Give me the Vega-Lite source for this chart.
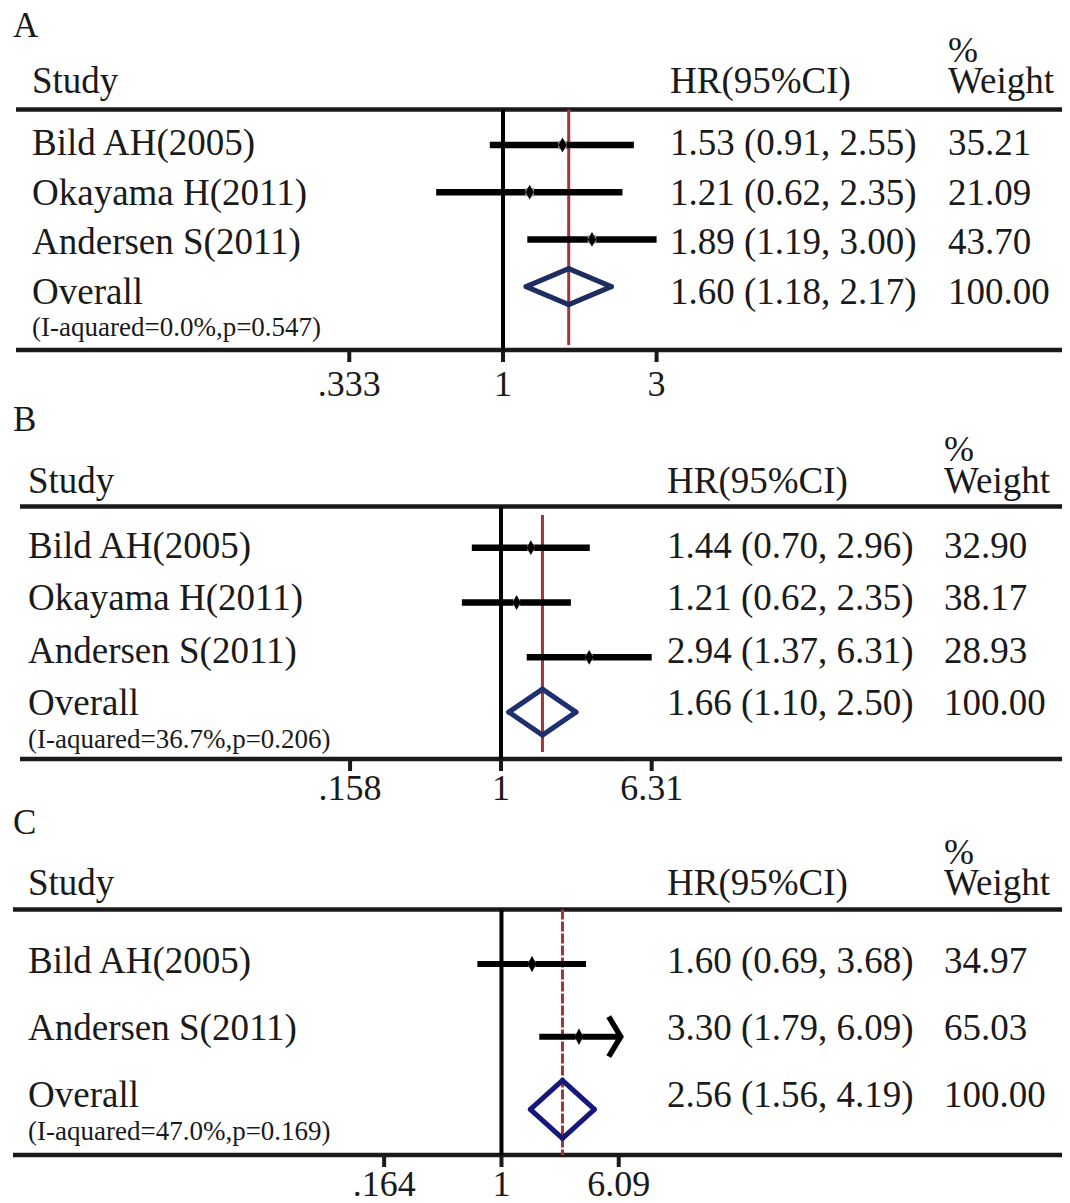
{
"$schema": "https://vega.github.io/schema/vega-lite/v6.json",
"padding": 0,
"spacing": 0,
"bounds": "flush",
"config": {"view": {"stroke": null}, "concat": {"spacing": 0}},
"datasets": {
"A": [
{"row": 1, "type": "study", "study": "Bild AH(2005)", "est": 1.53, "lo": 0.91, "hi": 2.55, "label": "1.53 (0.91, 2.55)", "wt": 35.21},
{"row": 2, "type": "study", "study": "Okayama H(2011)", "est": 1.21, "lo": 0.62, "hi": 2.35, "label": "1.21 (0.62, 2.35)", "wt": 21.09},
{"row": 3, "type": "study", "study": "Andersen S(2011)", "est": 1.89, "lo": 1.19, "hi": 3.0, "label": "1.89 (1.19, 3.00)", "wt": 43.7},
{"row": 4, "type": "overall", "study": "Overall", "est": 1.6, "lo": 1.18, "hi": 2.17, "label": "1.60 (1.18, 2.17)", "wt": 100, "het": "(I-aquared=0.0%,p=0.547)"}
],
"B": [
{"row": 1, "type": "study", "study": "Bild AH(2005)", "est": 1.44, "lo": 0.7, "hi": 2.96, "label": "1.44 (0.70, 2.96)", "wt": 32.9},
{"row": 2, "type": "study", "study": "Okayama H(2011)", "est": 1.21, "lo": 0.62, "hi": 2.35, "label": "1.21 (0.62, 2.35)", "wt": 38.17},
{"row": 3, "type": "study", "study": "Andersen S(2011)", "est": 2.94, "lo": 1.37, "hi": 6.31, "label": "2.94 (1.37, 6.31)", "wt": 28.93},
{"row": 4, "type": "overall", "study": "Overall", "est": 1.66, "lo": 1.1, "hi": 2.5, "label": "1.66 (1.10, 2.50)", "wt": 100, "het": "(I-aquared=36.7%,p=0.206)"}
],
"C": [
{"row": 1, "type": "study", "study": "Bild AH(2005)", "est": 1.6, "lo": 0.69, "hi": 3.68, "label": "1.60 (0.69, 3.68)", "wt": 34.97},
{"row": 2, "type": "study", "study": "Andersen S(2011)", "est": 3.3, "lo": 1.79, "hi": 6.09, "label": "3.30 (1.79, 6.09)", "wt": 65.03},
{"row": 3, "type": "overall", "study": "Overall", "est": 2.56, "lo": 1.56, "hi": 4.19, "label": "2.56 (1.56, 4.19)", "wt": 100, "het": "(I-aquared=47.0%,p=0.169)"}
],
"ticksA": [{"v": 0.333, "lab": ".333"}, {"v": 1, "lab": "1"}, {"v": 3, "lab": "3"}],
"ticksB": [{"v": 0.158, "lab": ".158"}, {"v": 1, "lab": "1"}, {"v": 6.31, "lab": "6.31"}],
"ticksC": [{"v": 0.164, "lab": ".164"}, {"v": 1, "lab": "1"}, {"v": 6.09, "lab": "6.09"}]
},
"vconcat": [
{
"width": 1070, "height": 401,
"data": {"name": "A"},
"resolve": {"scale": {"x": "independent", "y": "independent"}},
"layer": [
{"layer": [
{"data": {"values": [{}]}, "mark": {"type": "text", "text": "A", "font": "Liberation Serif", "fontSize": 35, "align": "left", "baseline": "alphabetic", "color": "#1a1a1a"},
 "encoding": {"x": {"datum": 13, "type": "quantitative", "scale": {"domain": [0, 1070], "nice": false, "zero": false}, "axis": null}, "y": {"datum": -1.3742, "type": "quantitative", "scale": {"domain": [-2.1187, 5.9497], "nice": false, "zero": false, "reverse": true}, "axis": null}}},
{"data": {"values": [{}]}, "mark": {"type": "text", "text": "%", "font": "Liberation Serif", "fontSize": 36, "align": "left", "baseline": "alphabetic", "color": "#1a1a1a"},
 "encoding": {"x": {"datum": 948, "type": "quantitative", "scale": {"domain": [0, 1070], "nice": false, "zero": false}, "axis": null}, "y": {"datum": -0.8712, "type": "quantitative", "scale": {"domain": [-2.1187, 5.9497], "nice": false, "zero": false, "reverse": true}, "axis": null}}},
{"data": {"values": [{}]}, "mark": {"type": "text", "text": "Study", "font": "Liberation Serif", "fontSize": 37, "align": "left", "baseline": "alphabetic", "color": "#1a1a1a"},
 "encoding": {"x": {"datum": 32, "type": "quantitative", "scale": {"domain": [0, 1070], "nice": false, "zero": false}, "axis": null}, "y": {"datum": -0.2475, "type": "quantitative", "scale": {"domain": [-2.1187, 5.9497], "nice": false, "zero": false, "reverse": true}, "axis": null}}},
{"data": {"values": [{}]}, "mark": {"type": "text", "text": "HR(95%CI)", "font": "Liberation Serif", "fontSize": 37, "align": "left", "baseline": "alphabetic", "color": "#1a1a1a"},
 "encoding": {"x": {"datum": 670, "type": "quantitative", "scale": {"domain": [0, 1070], "nice": false, "zero": false}, "axis": null}, "y": {"datum": -0.2475, "type": "quantitative", "scale": {"domain": [-2.1187, 5.9497], "nice": false, "zero": false, "reverse": true}, "axis": null}}},
{"data": {"values": [{}]}, "mark": {"type": "text", "text": "Weight", "font": "Liberation Serif", "fontSize": 37, "align": "left", "baseline": "alphabetic", "color": "#1a1a1a"},
 "encoding": {"x": {"datum": 948, "type": "quantitative", "scale": {"domain": [0, 1070], "nice": false, "zero": false}, "axis": null}, "y": {"datum": -0.2475, "type": "quantitative", "scale": {"domain": [-2.1187, 5.9497], "nice": false, "zero": false, "reverse": true}, "axis": null}}},
{"data": {"values": [{}]}, "mark": {"type": "rule", "color": "#1a1a1a", "strokeWidth": 4.5},
 "encoding": {"x": {"datum": 16, "type": "quantitative", "scale": {"domain": [0, 1070], "nice": false, "zero": false}, "axis": null}, "x2": {"datum": 1062}, "y": {"datum": 0.0845, "type": "quantitative", "scale": {"domain": [-2.1187, 5.9497], "nice": false, "zero": false, "reverse": true}, "axis": null}}},
{"data": {"values": [{}]}, "mark": {"type": "rule", "color": "#1a1a1a", "strokeWidth": 4.5},
 "encoding": {"x": {"datum": 16, "type": "quantitative", "scale": {"domain": [0, 1070], "nice": false, "zero": false}, "axis": null}, "x2": {"datum": 1062}, "y": {"datum": 4.9235, "type": "quantitative", "scale": {"domain": [-2.1187, 5.9497], "nice": false, "zero": false, "reverse": true}, "axis": null}}},
{"mark": {"type": "text", "font": "Liberation Serif", "fontSize": 37, "align": "left", "baseline": "alphabetic", "color": "#1a1a1a"},
 "encoding": {"x": {"datum": 32, "type": "quantitative", "scale": {"domain": [0, 1070], "nice": false, "zero": false}, "axis": null}, "y": {"field": "row", "type": "quantitative", "scale": {"domain": [-2.1187, 5.9497], "nice": false, "zero": false, "reverse": true}, "axis": null}, "text": {"field": "study"}}},
{"mark": {"type": "text", "font": "Liberation Serif", "fontSize": 37, "align": "left", "baseline": "alphabetic", "color": "#1a1a1a"},
 "encoding": {"x": {"datum": 670, "type": "quantitative", "scale": {"domain": [0, 1070], "nice": false, "zero": false}, "axis": null}, "y": {"field": "row", "type": "quantitative", "scale": {"domain": [-2.1187, 5.9497], "nice": false, "zero": false, "reverse": true}, "axis": null}, "text": {"field": "label"}}},
{"mark": {"type": "text", "font": "Liberation Serif", "fontSize": 37, "align": "left", "baseline": "alphabetic", "color": "#1a1a1a"},
 "encoding": {"x": {"datum": 948, "type": "quantitative", "scale": {"domain": [0, 1070], "nice": false, "zero": false}, "axis": null}, "y": {"field": "row", "type": "quantitative", "scale": {"domain": [-2.1187, 5.9497], "nice": false, "zero": false, "reverse": true}, "axis": null}, "text": {"field": "wt", "type": "quantitative", "format": ".2f"}}},
{"transform": [{"filter": "datum.type == 'overall'"}], "mark": {"type": "text", "font": "Liberation Serif", "fontSize": 27, "align": "left", "baseline": "alphabetic", "color": "#1a1a1a"},
 "encoding": {"x": {"datum": 32, "type": "quantitative", "scale": {"domain": [0, 1070], "nice": false, "zero": false}, "axis": null}, "y": {"datum": 4.6419, "type": "quantitative", "scale": {"domain": [-2.1187, 5.9497], "nice": false, "zero": false, "reverse": true}, "axis": null}, "text": {"field": "het"}}}
]},
{"layer": [
{"data": {"values": [{}]}, "mark": {"type": "rule", "color": "#000000", "strokeWidth": 4},
 "encoding": {"x": {"datum": 1, "type": "quantitative", "scale": {"type": "log", "domain": [0.02738, 57.73], "nice": false}, "axis": null},
  "y": {"datum": 0.2479, "type": "quantitative", "scale": {"domain": [-2.072, 6.4237], "nice": false, "zero": false, "reverse": true}, "axis": null}, "y2": {"datum": 5.3432}}},
{"data": {"name": "ticksA"}, "mark": {"type": "rule", "color": "#1a1a1a", "strokeWidth": 4},
 "encoding": {"x": {"field": "v", "type": "quantitative", "scale": {"type": "log", "domain": [0.02738, 57.73], "nice": false}, "axis": null},
  "y": {"datum": 5.3432, "type": "quantitative", "scale": {"domain": [-2.072, 6.4237], "nice": false, "zero": false, "reverse": true}, "axis": null}, "y2": {"datum": 5.5975}}},
{"data": {"name": "ticksA"}, "mark": {"type": "text", "font": "Liberation Serif", "fontSize": 36, "align": "center", "baseline": "alphabetic", "color": "#1a1a1a"},
 "encoding": {"x": {"field": "v", "type": "quantitative", "scale": {"type": "log", "domain": [0.02738, 57.73], "nice": false}, "axis": null},
  "y": {"datum": 6.3178, "type": "quantitative", "scale": {"domain": [-2.072, 6.4237], "nice": false, "zero": false, "reverse": true}, "axis": null}, "text": {"field": "lab"}}},
{"transform": [{"filter": "datum.type == 'overall'"}], "mark": {"type": "rule", "color": "#a3343a", "strokeWidth": 3},
 "encoding": {"x": {"field": "est", "type": "quantitative", "scale": {"type": "log", "domain": [0.02738, 57.73], "nice": false}, "axis": null}, "y": {"datum": 0.2479, "type": "quantitative", "scale": {"domain": [-2.072, 6.4237], "nice": false, "zero": false, "reverse": true}, "axis": null}, "y2": {"datum": 5.2373}}},
{"transform": [{"filter": "datum.type == 'study'"}], "mark": {"type": "rule", "color": "#000000", "strokeWidth": 6.5},
 "encoding": {"x": {"field": "lo", "type": "quantitative", "scale": {"type": "log", "domain": [0.02738, 57.73], "nice": false}, "axis": null}, "x2": {"field": "hi"}, "y": {"field": "row", "type": "quantitative", "scale": {"domain": [-2.072, 6.4237], "nice": false, "zero": false, "reverse": true}, "axis": null}}},
{"transform": [{"filter": "datum.type == 'study'"}], "mark": {"type": "point", "shape": "square", "filled": true, "color": "#a0a0a0", "size": 70, "opacity": 1},
 "encoding": {"x": {"field": "est", "type": "quantitative", "scale": {"type": "log", "domain": [0.02738, 57.73], "nice": false}, "axis": null}, "y": {"field": "row", "type": "quantitative", "scale": {"domain": [-2.072, 6.4237], "nice": false, "zero": false, "reverse": true}, "axis": null}}},
{"transform": [{"filter": "datum.type == 'study'"}], "mark": {"type": "point", "shape": "M0,-1L0.55,0L0,1L-0.55,0Z", "filled": true, "color": "#000000", "size": 220, "opacity": 1, "strokeWidth": 0},
 "encoding": {"x": {"field": "est", "type": "quantitative", "scale": {"type": "log", "domain": [0.02738, 57.73], "nice": false}, "axis": null}, "y": {"field": "row", "type": "quantitative", "scale": {"domain": [-2.072, 6.4237], "nice": false, "zero": false, "reverse": true}, "axis": null}}},
{"transform": [{"filter": "datum.type == 'overall'"}], "mark": {"type": "rule", "color": "#1e2d5e", "strokeWidth": 5, "strokeCap": "round", "y2Offset": -18},
 "encoding": {"x": {"field": "lo", "type": "quantitative", "scale": {"type": "log", "domain": [0.02738, 57.73], "nice": false}, "axis": null}, "x2": {"field": "est"}, "y": {"field": "row", "type": "quantitative", "scale": {"domain": [-2.072, 6.4237], "nice": false, "zero": false, "reverse": true}, "axis": null}, "y2": {"field": "row"}}},
{"transform": [{"filter": "datum.type == 'overall'"}], "mark": {"type": "rule", "color": "#1e2d5e", "strokeWidth": 5, "strokeCap": "round", "yOffset": -18},
 "encoding": {"x": {"field": "est", "type": "quantitative", "scale": {"type": "log", "domain": [0.02738, 57.73], "nice": false}, "axis": null}, "x2": {"field": "hi"}, "y": {"field": "row", "type": "quantitative", "scale": {"domain": [-2.072, 6.4237], "nice": false, "zero": false, "reverse": true}, "axis": null}, "y2": {"field": "row"}}},
{"transform": [{"filter": "datum.type == 'overall'"}], "mark": {"type": "rule", "color": "#1e2d5e", "strokeWidth": 5, "strokeCap": "round", "y2Offset": 18},
 "encoding": {"x": {"field": "hi", "type": "quantitative", "scale": {"type": "log", "domain": [0.02738, 57.73], "nice": false}, "axis": null}, "x2": {"field": "est"}, "y": {"field": "row", "type": "quantitative", "scale": {"domain": [-2.072, 6.4237], "nice": false, "zero": false, "reverse": true}, "axis": null}, "y2": {"field": "row"}}},
{"transform": [{"filter": "datum.type == 'overall'"}], "mark": {"type": "rule", "color": "#1e2d5e", "strokeWidth": 5, "strokeCap": "round", "yOffset": 18},
 "encoding": {"x": {"field": "est", "type": "quantitative", "scale": {"type": "log", "domain": [0.02738, 57.73], "nice": false}, "axis": null}, "x2": {"field": "lo"}, "y": {"field": "row", "type": "quantitative", "scale": {"domain": [-2.072, 6.4237], "nice": false, "zero": false, "reverse": true}, "axis": null}, "y2": {"field": "row"}}}
]}
]
},
{
"width": 1070, "height": 402,
"data": {"name": "B"},
"resolve": {"scale": {"x": "independent", "y": "independent"}},
"layer": [
{"layer": [
{"data": {"values": [{}]}, "mark": {"type": "text", "text": "B", "font": "Liberation Serif", "fontSize": 35, "align": "left", "baseline": "alphabetic", "color": "#1a1a1a"},
 "encoding": {"x": {"datum": 13, "type": "quantitative", "scale": {"domain": [0, 1070], "nice": false, "zero": false}, "axis": null}, "y": {"datum": -1.419, "type": "quantitative", "scale": {"domain": [-1.9905, 5.6667], "nice": false, "zero": false, "reverse": true}, "axis": null}}},
{"data": {"values": [{}]}, "mark": {"type": "text", "text": "%", "font": "Liberation Serif", "fontSize": 36, "align": "left", "baseline": "alphabetic", "color": "#1a1a1a"},
 "encoding": {"x": {"datum": 944, "type": "quantitative", "scale": {"domain": [0, 1070], "nice": false, "zero": false}, "axis": null}, "y": {"datum": -0.8476, "type": "quantitative", "scale": {"domain": [-1.9905, 5.6667], "nice": false, "zero": false, "reverse": true}, "axis": null}}},
{"data": {"values": [{}]}, "mark": {"type": "text", "text": "Study", "font": "Liberation Serif", "fontSize": 37, "align": "left", "baseline": "alphabetic", "color": "#1a1a1a"},
 "encoding": {"x": {"datum": 28, "type": "quantitative", "scale": {"domain": [0, 1070], "nice": false, "zero": false}, "axis": null}, "y": {"datum": -0.2381, "type": "quantitative", "scale": {"domain": [-1.9905, 5.6667], "nice": false, "zero": false, "reverse": true}, "axis": null}}},
{"data": {"values": [{}]}, "mark": {"type": "text", "text": "HR(95%CI)", "font": "Liberation Serif", "fontSize": 37, "align": "left", "baseline": "alphabetic", "color": "#1a1a1a"},
 "encoding": {"x": {"datum": 667, "type": "quantitative", "scale": {"domain": [0, 1070], "nice": false, "zero": false}, "axis": null}, "y": {"datum": -0.2381, "type": "quantitative", "scale": {"domain": [-1.9905, 5.6667], "nice": false, "zero": false, "reverse": true}, "axis": null}}},
{"data": {"values": [{}]}, "mark": {"type": "text", "text": "Weight", "font": "Liberation Serif", "fontSize": 37, "align": "left", "baseline": "alphabetic", "color": "#1a1a1a"},
 "encoding": {"x": {"datum": 944, "type": "quantitative", "scale": {"domain": [0, 1070], "nice": false, "zero": false}, "axis": null}, "y": {"datum": -0.2381, "type": "quantitative", "scale": {"domain": [-1.9905, 5.6667], "nice": false, "zero": false, "reverse": true}, "axis": null}}},
{"data": {"values": [{}]}, "mark": {"type": "rule", "color": "#1a1a1a", "strokeWidth": 4.5},
 "encoding": {"x": {"datum": 20, "type": "quantitative", "scale": {"domain": [0, 1070], "nice": false, "zero": false}, "axis": null}, "x2": {"datum": 1062}, "y": {"datum": 0.019, "type": "quantitative", "scale": {"domain": [-1.9905, 5.6667], "nice": false, "zero": false, "reverse": true}, "axis": null}}},
{"data": {"values": [{}]}, "mark": {"type": "rule", "color": "#1a1a1a", "strokeWidth": 4.5},
 "encoding": {"x": {"datum": 20, "type": "quantitative", "scale": {"domain": [0, 1070], "nice": false, "zero": false}, "axis": null}, "x2": {"datum": 1062}, "y": {"datum": 4.8286, "type": "quantitative", "scale": {"domain": [-1.9905, 5.6667], "nice": false, "zero": false, "reverse": true}, "axis": null}}},
{"mark": {"type": "text", "font": "Liberation Serif", "fontSize": 37, "align": "left", "baseline": "alphabetic", "color": "#1a1a1a"},
 "encoding": {"x": {"datum": 28, "type": "quantitative", "scale": {"domain": [0, 1070], "nice": false, "zero": false}, "axis": null}, "y": {"field": "row", "type": "quantitative", "scale": {"domain": [-1.9905, 5.6667], "nice": false, "zero": false, "reverse": true}, "axis": null}, "text": {"field": "study"}}},
{"mark": {"type": "text", "font": "Liberation Serif", "fontSize": 37, "align": "left", "baseline": "alphabetic", "color": "#1a1a1a"},
 "encoding": {"x": {"datum": 667, "type": "quantitative", "scale": {"domain": [0, 1070], "nice": false, "zero": false}, "axis": null}, "y": {"field": "row", "type": "quantitative", "scale": {"domain": [-1.9905, 5.6667], "nice": false, "zero": false, "reverse": true}, "axis": null}, "text": {"field": "label"}}},
{"mark": {"type": "text", "font": "Liberation Serif", "fontSize": 37, "align": "left", "baseline": "alphabetic", "color": "#1a1a1a"},
 "encoding": {"x": {"datum": 944, "type": "quantitative", "scale": {"domain": [0, 1070], "nice": false, "zero": false}, "axis": null}, "y": {"field": "row", "type": "quantitative", "scale": {"domain": [-1.9905, 5.6667], "nice": false, "zero": false, "reverse": true}, "axis": null}, "text": {"field": "wt", "type": "quantitative", "format": ".2f"}}},
{"transform": [{"filter": "datum.type == 'overall'"}], "mark": {"type": "text", "font": "Liberation Serif", "fontSize": 27, "align": "left", "baseline": "alphabetic", "color": "#1a1a1a"},
 "encoding": {"x": {"datum": 28, "type": "quantitative", "scale": {"domain": [0, 1070], "nice": false, "zero": false}, "axis": null}, "y": {"datum": 4.619, "type": "quantitative", "scale": {"domain": [-1.9905, 5.6667], "nice": false, "zero": false, "reverse": true}, "axis": null}, "text": {"field": "het"}}}
]},
{"layer": [
{"data": {"values": [{}]}, "mark": {"type": "rule", "color": "#000000", "strokeWidth": 4},
 "encoding": {"x": {"datum": 1, "type": "quantitative", "scale": {"type": "log", "domain": [0.002188, 1049.5], "nice": false}, "axis": null},
  "y": {"datum": 0.2482, "type": "quantitative", "scale": {"domain": [-1.677, 5.6588], "nice": false, "zero": false, "reverse": true}, "axis": null}, "y2": {"datum": 4.8558}}},
{"data": {"name": "ticksB"}, "mark": {"type": "rule", "color": "#1a1a1a", "strokeWidth": 4},
 "encoding": {"x": {"field": "v", "type": "quantitative", "scale": {"type": "log", "domain": [0.002188, 1049.5], "nice": false}, "axis": null},
  "y": {"datum": 4.8558, "type": "quantitative", "scale": {"domain": [-1.677, 5.6588], "nice": false, "zero": false, "reverse": true}, "axis": null}, "y2": {"datum": 5.0748}}},
{"data": {"name": "ticksB"}, "mark": {"type": "text", "font": "Liberation Serif", "fontSize": 36, "align": "center", "baseline": "alphabetic", "color": "#1a1a1a"},
 "encoding": {"x": {"field": "v", "type": "quantitative", "scale": {"type": "log", "domain": [0.002188, 1049.5], "nice": false}, "axis": null},
  "y": {"datum": 5.604, "type": "quantitative", "scale": {"domain": [-1.677, 5.6588], "nice": false, "zero": false, "reverse": true}, "axis": null}, "text": {"field": "lab"}}},
{"transform": [{"filter": "datum.type == 'overall'"}], "mark": {"type": "rule", "color": "#a3343a", "strokeWidth": 3},
 "encoding": {"x": {"field": "est", "type": "quantitative", "scale": {"type": "log", "domain": [0.002188, 1049.5], "nice": false}, "axis": null}, "y": {"datum": 0.4033, "type": "quantitative", "scale": {"domain": [-1.677, 5.6588], "nice": false, "zero": false, "reverse": true}, "axis": null}, "y2": {"datum": 4.7281}}},
{"transform": [{"filter": "datum.type == 'study'"}], "mark": {"type": "rule", "color": "#000000", "strokeWidth": 6.5},
 "encoding": {"x": {"field": "lo", "type": "quantitative", "scale": {"type": "log", "domain": [0.002188, 1049.5], "nice": false}, "axis": null}, "x2": {"field": "hi"}, "y": {"field": "row", "type": "quantitative", "scale": {"domain": [-1.677, 5.6588], "nice": false, "zero": false, "reverse": true}, "axis": null}}},
{"transform": [{"filter": "datum.type == 'study'"}], "mark": {"type": "point", "shape": "square", "filled": true, "color": "#a0a0a0", "size": 50, "opacity": 1},
 "encoding": {"x": {"field": "est", "type": "quantitative", "scale": {"type": "log", "domain": [0.002188, 1049.5], "nice": false}, "axis": null}, "y": {"field": "row", "type": "quantitative", "scale": {"domain": [-1.677, 5.6588], "nice": false, "zero": false, "reverse": true}, "axis": null}}},
{"transform": [{"filter": "datum.type == 'study'"}], "mark": {"type": "point", "shape": "M0,-1L0.55,0L0,1L-0.55,0Z", "filled": true, "color": "#000000", "size": 220, "opacity": 1, "strokeWidth": 0},
 "encoding": {"x": {"field": "est", "type": "quantitative", "scale": {"type": "log", "domain": [0.002188, 1049.5], "nice": false}, "axis": null}, "y": {"field": "row", "type": "quantitative", "scale": {"domain": [-1.677, 5.6588], "nice": false, "zero": false, "reverse": true}, "axis": null}}},
{"transform": [{"filter": "datum.type == 'overall'"}], "mark": {"type": "rule", "color": "#1f3070", "strokeWidth": 5, "strokeCap": "round", "y2Offset": -23},
 "encoding": {"x": {"field": "lo", "type": "quantitative", "scale": {"type": "log", "domain": [0.002188, 1049.5], "nice": false}, "axis": null}, "x2": {"field": "est"}, "y": {"field": "row", "type": "quantitative", "scale": {"domain": [-1.677, 5.6588], "nice": false, "zero": false, "reverse": true}, "axis": null}, "y2": {"field": "row"}}},
{"transform": [{"filter": "datum.type == 'overall'"}], "mark": {"type": "rule", "color": "#1f3070", "strokeWidth": 5, "strokeCap": "round", "yOffset": -23},
 "encoding": {"x": {"field": "est", "type": "quantitative", "scale": {"type": "log", "domain": [0.002188, 1049.5], "nice": false}, "axis": null}, "x2": {"field": "hi"}, "y": {"field": "row", "type": "quantitative", "scale": {"domain": [-1.677, 5.6588], "nice": false, "zero": false, "reverse": true}, "axis": null}, "y2": {"field": "row"}}},
{"transform": [{"filter": "datum.type == 'overall'"}], "mark": {"type": "rule", "color": "#1f3070", "strokeWidth": 5, "strokeCap": "round", "y2Offset": 23},
 "encoding": {"x": {"field": "hi", "type": "quantitative", "scale": {"type": "log", "domain": [0.002188, 1049.5], "nice": false}, "axis": null}, "x2": {"field": "est"}, "y": {"field": "row", "type": "quantitative", "scale": {"domain": [-1.677, 5.6588], "nice": false, "zero": false, "reverse": true}, "axis": null}, "y2": {"field": "row"}}},
{"transform": [{"filter": "datum.type == 'overall'"}], "mark": {"type": "rule", "color": "#1f3070", "strokeWidth": 5, "strokeCap": "round", "yOffset": 23},
 "encoding": {"x": {"field": "est", "type": "quantitative", "scale": {"type": "log", "domain": [0.002188, 1049.5], "nice": false}, "axis": null}, "x2": {"field": "lo"}, "y": {"field": "row", "type": "quantitative", "scale": {"domain": [-1.677, 5.6588], "nice": false, "zero": false, "reverse": true}, "axis": null}, "y2": {"field": "row"}}}
]}
]
},
{
"width": 1070, "height": 400,
"data": {"name": "C"},
"resolve": {"scale": {"x": "independent", "y": "independent"}},
"layer": [
{"layer": [
{"data": {"values": [{}]}, "mark": {"type": "text", "text": "C", "font": "Liberation Serif", "fontSize": 35, "align": "left", "baseline": "alphabetic", "color": "#1a1a1a"},
 "encoding": {"x": {"datum": 13, "type": "quantitative", "scale": {"domain": [0, 1070], "nice": false, "zero": false}, "axis": null}, "y": {"datum": -1.0746, "type": "quantitative", "scale": {"domain": [-1.5373, 4.4328], "nice": false, "zero": false, "reverse": true}, "axis": null}}},
{"data": {"values": [{}]}, "mark": {"type": "text", "text": "%", "font": "Liberation Serif", "fontSize": 36, "align": "left", "baseline": "alphabetic", "color": "#1a1a1a"},
 "encoding": {"x": {"datum": 944, "type": "quantitative", "scale": {"domain": [0, 1070], "nice": false, "zero": false}, "axis": null}, "y": {"datum": -0.6269, "type": "quantitative", "scale": {"domain": [-1.5373, 4.4328], "nice": false, "zero": false, "reverse": true}, "axis": null}}},
{"data": {"values": [{}]}, "mark": {"type": "text", "text": "Study", "font": "Liberation Serif", "fontSize": 37, "align": "left", "baseline": "alphabetic", "color": "#1a1a1a"},
 "encoding": {"x": {"datum": 28, "type": "quantitative", "scale": {"domain": [0, 1070], "nice": false, "zero": false}, "axis": null}, "y": {"datum": -0.1642, "type": "quantitative", "scale": {"domain": [-1.5373, 4.4328], "nice": false, "zero": false, "reverse": true}, "axis": null}}},
{"data": {"values": [{}]}, "mark": {"type": "text", "text": "HR(95%CI)", "font": "Liberation Serif", "fontSize": 37, "align": "left", "baseline": "alphabetic", "color": "#1a1a1a"},
 "encoding": {"x": {"datum": 667, "type": "quantitative", "scale": {"domain": [0, 1070], "nice": false, "zero": false}, "axis": null}, "y": {"datum": -0.1642, "type": "quantitative", "scale": {"domain": [-1.5373, 4.4328], "nice": false, "zero": false, "reverse": true}, "axis": null}}},
{"data": {"values": [{}]}, "mark": {"type": "text", "text": "Weight", "font": "Liberation Serif", "fontSize": 37, "align": "left", "baseline": "alphabetic", "color": "#1a1a1a"},
 "encoding": {"x": {"datum": 944, "type": "quantitative", "scale": {"domain": [0, 1070], "nice": false, "zero": false}, "axis": null}, "y": {"datum": -0.1642, "type": "quantitative", "scale": {"domain": [-1.5373, 4.4328], "nice": false, "zero": false, "reverse": true}, "axis": null}}},
{"data": {"values": [{}]}, "mark": {"type": "rule", "color": "#1a1a1a", "strokeWidth": 4.5},
 "encoding": {"x": {"datum": 13, "type": "quantitative", "scale": {"domain": [0, 1070], "nice": false, "zero": false}, "axis": null}, "x2": {"datum": 1062}, "y": {"datum": 0.0522, "type": "quantitative", "scale": {"domain": [-1.5373, 4.4328], "nice": false, "zero": false, "reverse": true}, "axis": null}}},
{"data": {"values": [{}]}, "mark": {"type": "rule", "color": "#1a1a1a", "strokeWidth": 4.5},
 "encoding": {"x": {"datum": 13, "type": "quantitative", "scale": {"domain": [0, 1070], "nice": false, "zero": false}, "axis": null}, "x2": {"datum": 1062}, "y": {"datum": 3.7164, "type": "quantitative", "scale": {"domain": [-1.5373, 4.4328], "nice": false, "zero": false, "reverse": true}, "axis": null}}},
{"mark": {"type": "text", "font": "Liberation Serif", "fontSize": 37, "align": "left", "baseline": "alphabetic", "color": "#1a1a1a"},
 "encoding": {"x": {"datum": 28, "type": "quantitative", "scale": {"domain": [0, 1070], "nice": false, "zero": false}, "axis": null}, "y": {"field": "row", "type": "quantitative", "scale": {"domain": [-1.5373, 4.4328], "nice": false, "zero": false, "reverse": true}, "axis": null}, "text": {"field": "study"}}},
{"mark": {"type": "text", "font": "Liberation Serif", "fontSize": 37, "align": "left", "baseline": "alphabetic", "color": "#1a1a1a"},
 "encoding": {"x": {"datum": 667, "type": "quantitative", "scale": {"domain": [0, 1070], "nice": false, "zero": false}, "axis": null}, "y": {"field": "row", "type": "quantitative", "scale": {"domain": [-1.5373, 4.4328], "nice": false, "zero": false, "reverse": true}, "axis": null}, "text": {"field": "label"}}},
{"mark": {"type": "text", "font": "Liberation Serif", "fontSize": 37, "align": "left", "baseline": "alphabetic", "color": "#1a1a1a"},
 "encoding": {"x": {"datum": 944, "type": "quantitative", "scale": {"domain": [0, 1070], "nice": false, "zero": false}, "axis": null}, "y": {"field": "row", "type": "quantitative", "scale": {"domain": [-1.5373, 4.4328], "nice": false, "zero": false, "reverse": true}, "axis": null}, "text": {"field": "wt", "type": "quantitative", "format": ".2f"}}},
{"transform": [{"filter": "datum.type == 'overall'"}], "mark": {"type": "text", "font": "Liberation Serif", "fontSize": 27, "align": "left", "baseline": "alphabetic", "color": "#1a1a1a"},
 "encoding": {"x": {"datum": 28, "type": "quantitative", "scale": {"domain": [0, 1070], "nice": false, "zero": false}, "axis": null}, "y": {"datum": 3.4925, "type": "quantitative", "scale": {"domain": [-1.5373, 4.4328], "nice": false, "zero": false, "reverse": true}, "axis": null}, "text": {"field": "het"}}}
]},
{"layer": [
{"data": {"values": [{}]}, "mark": {"type": "rule", "color": "#000000", "strokeWidth": 4},
 "encoding": {"x": {"datum": 1, "type": "quantitative", "scale": {"type": "log", "domain": [0.000441, 6371], "nice": false}, "axis": null},
  "y": {"datum": 0.2503, "type": "quantitative", "scale": {"domain": [-1.2146, 4.2875], "nice": false, "zero": false, "reverse": true}, "axis": null}, "y2": {"datum": 3.6272}}},
{"data": {"name": "ticksC"}, "mark": {"type": "rule", "color": "#1a1a1a", "strokeWidth": 4},
 "encoding": {"x": {"field": "v", "type": "quantitative", "scale": {"type": "log", "domain": [0.000441, 6371], "nice": false}, "axis": null},
  "y": {"datum": 3.6272, "type": "quantitative", "scale": {"domain": [-1.2146, 4.2875], "nice": false, "zero": false, "reverse": true}, "axis": null}, "y2": {"datum": 3.7923}}},
{"data": {"name": "ticksC"}, "mark": {"type": "text", "font": "Liberation Serif", "fontSize": 36, "align": "center", "baseline": "alphabetic", "color": "#1a1a1a"},
 "encoding": {"x": {"field": "v", "type": "quantitative", "scale": {"type": "log", "domain": [0.000441, 6371], "nice": false}, "axis": null},
  "y": {"datum": 4.195, "type": "quantitative", "scale": {"domain": [-1.2146, 4.2875], "nice": false, "zero": false, "reverse": true}, "axis": null}, "text": {"field": "lab"}}},
{"transform": [{"filter": "datum.type == 'overall'"}], "mark": {"type": "rule", "color": "#a3343a", "strokeWidth": 3, "strokeDash": [10, 2]},
 "encoding": {"x": {"field": "est", "type": "quantitative", "scale": {"type": "log", "domain": [0.000441, 6371], "nice": false}, "axis": null}, "y": {"datum": 0.2503, "type": "quantitative", "scale": {"domain": [-1.2146, 4.2875], "nice": false, "zero": false, "reverse": true}, "axis": null}, "y2": {"datum": 3.6272}}},
{"transform": [{"filter": "datum.type == 'study'"}], "mark": {"type": "rule", "color": "#000000", "strokeWidth": 6},
 "encoding": {"x": {"field": "lo", "type": "quantitative", "scale": {"type": "log", "domain": [0.000441, 6371], "nice": false}, "axis": null}, "x2": {"field": "hi"}, "y": {"field": "row", "type": "quantitative", "scale": {"domain": [-1.2146, 4.2875], "nice": false, "zero": false, "reverse": true}, "axis": null}}},
{"transform": [{"filter": "datum.type == 'study' && datum.hi >= 6.09"}], "mark": {"type": "point", "shape": "M-0.5,-1L0.1,0L-0.5,1", "filled": false, "color": "#000000", "size": 1600, "opacity": 1, "strokeWidth": 5.5},
 "encoding": {"x": {"field": "hi", "type": "quantitative", "scale": {"type": "log", "domain": [0.000441, 6371], "nice": false}, "axis": null}, "y": {"field": "row", "type": "quantitative", "scale": {"domain": [-1.2146, 4.2875], "nice": false, "zero": false, "reverse": true}, "axis": null}}},
{"transform": [{"filter": "datum.type == 'study'"}], "mark": {"type": "point", "shape": "square", "filled": true, "color": "#a0a0a0", "size": 50, "opacity": 1},
 "encoding": {"x": {"field": "est", "type": "quantitative", "scale": {"type": "log", "domain": [0.000441, 6371], "nice": false}, "axis": null}, "y": {"field": "row", "type": "quantitative", "scale": {"domain": [-1.2146, 4.2875], "nice": false, "zero": false, "reverse": true}, "axis": null}}},
{"transform": [{"filter": "datum.type == 'study'"}], "mark": {"type": "point", "shape": "M0,-1L0.5,0L0,1L-0.5,0Z", "filled": true, "color": "#000000", "size": 280, "opacity": 1, "strokeWidth": 0},
 "encoding": {"x": {"field": "est", "type": "quantitative", "scale": {"type": "log", "domain": [0.000441, 6371], "nice": false}, "axis": null}, "y": {"field": "row", "type": "quantitative", "scale": {"domain": [-1.2146, 4.2875], "nice": false, "zero": false, "reverse": true}, "axis": null}}},
{"transform": [{"filter": "datum.type == 'overall'"}], "mark": {"type": "rule", "color": "#15187a", "strokeWidth": 5, "strokeCap": "round", "y2Offset": -29},
 "encoding": {"x": {"field": "lo", "type": "quantitative", "scale": {"type": "log", "domain": [0.000441, 6371], "nice": false}, "axis": null}, "x2": {"field": "est"}, "y": {"field": "row", "type": "quantitative", "scale": {"domain": [-1.2146, 4.2875], "nice": false, "zero": false, "reverse": true}, "axis": null}, "y2": {"field": "row"}}},
{"transform": [{"filter": "datum.type == 'overall'"}], "mark": {"type": "rule", "color": "#15187a", "strokeWidth": 5, "strokeCap": "round", "yOffset": -29},
 "encoding": {"x": {"field": "est", "type": "quantitative", "scale": {"type": "log", "domain": [0.000441, 6371], "nice": false}, "axis": null}, "x2": {"field": "hi"}, "y": {"field": "row", "type": "quantitative", "scale": {"domain": [-1.2146, 4.2875], "nice": false, "zero": false, "reverse": true}, "axis": null}, "y2": {"field": "row"}}},
{"transform": [{"filter": "datum.type == 'overall'"}], "mark": {"type": "rule", "color": "#15187a", "strokeWidth": 5, "strokeCap": "round", "y2Offset": 29},
 "encoding": {"x": {"field": "hi", "type": "quantitative", "scale": {"type": "log", "domain": [0.000441, 6371], "nice": false}, "axis": null}, "x2": {"field": "est"}, "y": {"field": "row", "type": "quantitative", "scale": {"domain": [-1.2146, 4.2875], "nice": false, "zero": false, "reverse": true}, "axis": null}, "y2": {"field": "row"}}},
{"transform": [{"filter": "datum.type == 'overall'"}], "mark": {"type": "rule", "color": "#15187a", "strokeWidth": 5, "strokeCap": "round", "yOffset": 29},
 "encoding": {"x": {"field": "est", "type": "quantitative", "scale": {"type": "log", "domain": [0.000441, 6371], "nice": false}, "axis": null}, "x2": {"field": "lo"}, "y": {"field": "row", "type": "quantitative", "scale": {"domain": [-1.2146, 4.2875], "nice": false, "zero": false, "reverse": true}, "axis": null}, "y2": {"field": "row"}}}
]}
]
}
]
}
